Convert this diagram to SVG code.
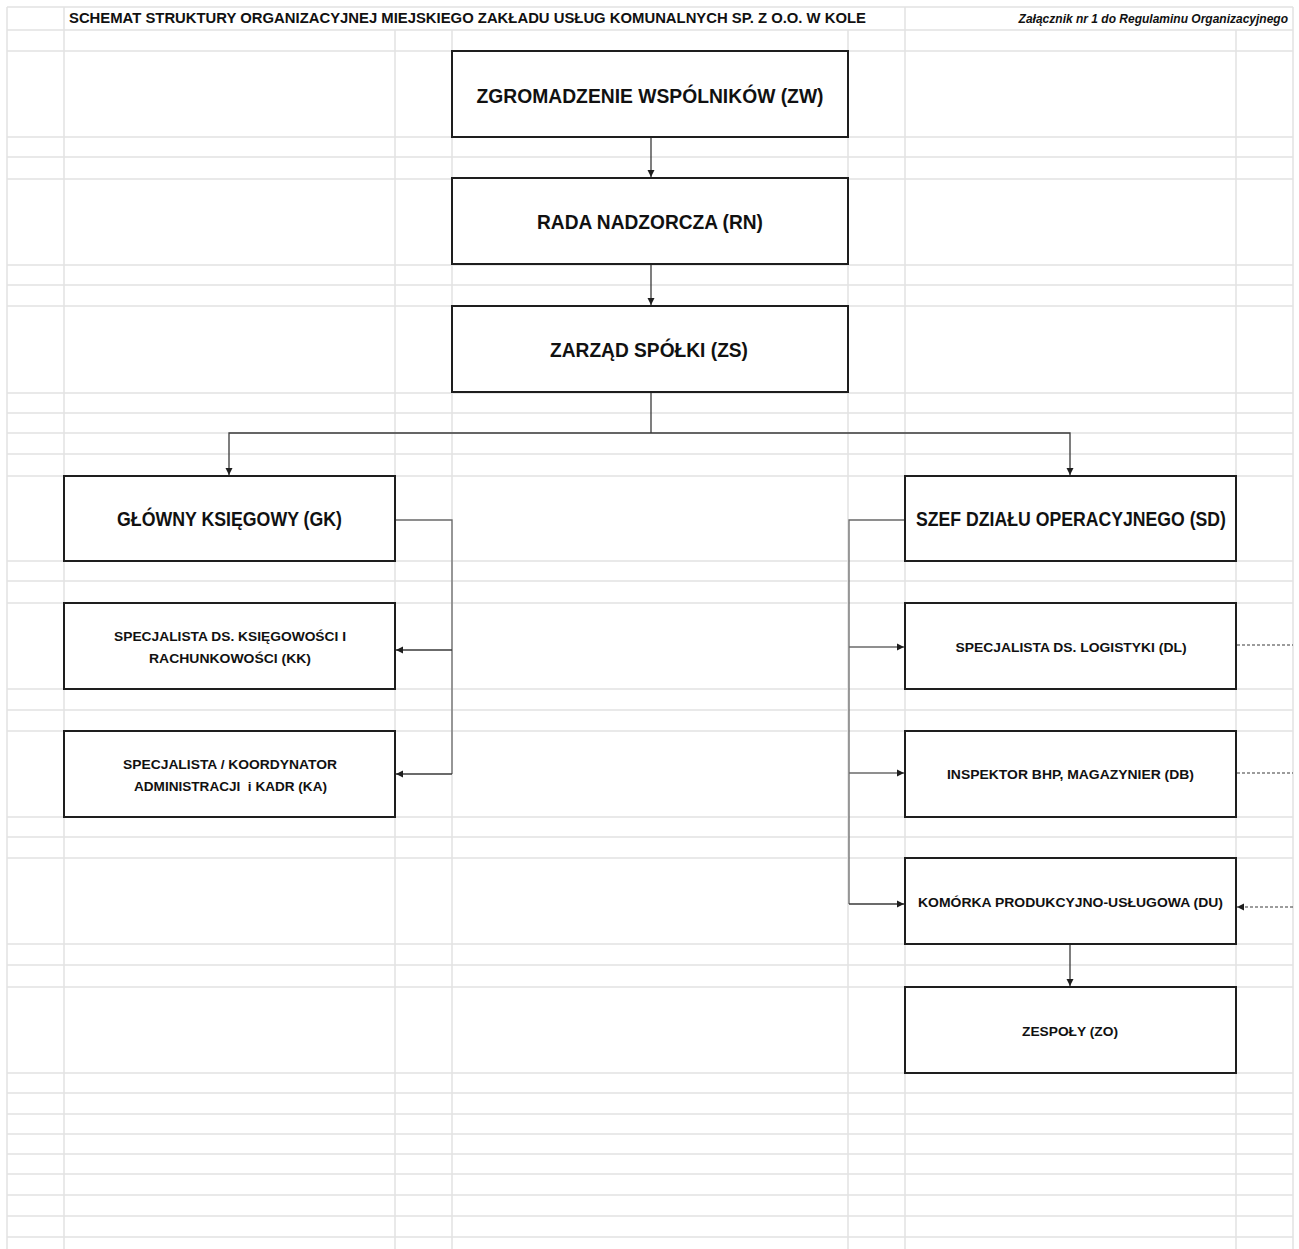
<svg xmlns="http://www.w3.org/2000/svg" width="1299" height="1249" viewBox="0 0 1299 1249">
<style>
.grid line{stroke:#e2e2e2;stroke-width:1.5}
.box{fill:#fff;stroke:#1e1e1e;stroke-width:2}
.big{font-family:"Liberation Sans",Arial,sans-serif;font-weight:bold;font-size:19.5px;fill:#111;text-anchor:middle}
.sm{font-family:"Liberation Sans",Arial,sans-serif;font-weight:bold;font-size:13.5px;fill:#111;text-anchor:middle;white-space:pre}
.c{fill:none;stroke:#3a3a3a;stroke-width:1.3}
.cg{fill:none;stroke:#6a6a6a;stroke-width:1.3}
.d{fill:none;stroke:#3a3a3a;stroke-width:1.2;stroke-dasharray:3 2}
</style>
<defs>
<marker id="ah" markerUnits="userSpaceOnUse" markerWidth="8" markerHeight="8" viewBox="0 0 8 8" refX="7" refY="4" orient="auto">
<path d="M0,0.5 L7,4 L0,7.5 Z" fill="#1e1e1e"/>
</marker>
</defs>
<rect width="1299" height="1249" fill="#fff"/>
<g class="grid">
<line x1="7" y1="7" x2="1293" y2="7"/>
<line x1="7" y1="30" x2="1293" y2="30"/>
<line x1="7" y1="51" x2="1293" y2="51"/>
<line x1="7" y1="137" x2="1293" y2="137"/>
<line x1="7" y1="157" x2="1293" y2="157"/>
<line x1="7" y1="179" x2="1293" y2="179"/>
<line x1="7" y1="265" x2="1293" y2="265"/>
<line x1="7" y1="285" x2="1293" y2="285"/>
<line x1="7" y1="306" x2="1293" y2="306"/>
<line x1="7" y1="393" x2="1293" y2="393"/>
<line x1="7" y1="413" x2="1293" y2="413"/>
<line x1="7" y1="433" x2="1293" y2="433"/>
<line x1="7" y1="454" x2="1293" y2="454"/>
<line x1="7" y1="476" x2="1293" y2="476"/>
<line x1="7" y1="561" x2="1293" y2="561"/>
<line x1="7" y1="581" x2="1293" y2="581"/>
<line x1="7" y1="603" x2="1293" y2="603"/>
<line x1="7" y1="689" x2="1293" y2="689"/>
<line x1="7" y1="710" x2="1293" y2="710"/>
<line x1="7" y1="731" x2="1293" y2="731"/>
<line x1="7" y1="817" x2="1293" y2="817"/>
<line x1="7" y1="837" x2="1293" y2="837"/>
<line x1="7" y1="858" x2="1293" y2="858"/>
<line x1="7" y1="944" x2="1293" y2="944"/>
<line x1="7" y1="965" x2="1293" y2="965"/>
<line x1="7" y1="987" x2="1293" y2="987"/>
<line x1="7" y1="1073" x2="1293" y2="1073"/>
<line x1="7" y1="1093" x2="1293" y2="1093"/>
<line x1="7" y1="1114" x2="1293" y2="1114"/>
<line x1="7" y1="1134" x2="1293" y2="1134"/>
<line x1="7" y1="1154" x2="1293" y2="1154"/>
<line x1="7" y1="1174" x2="1293" y2="1174"/>
<line x1="7" y1="1195" x2="1293" y2="1195"/>
<line x1="7" y1="1216" x2="1293" y2="1216"/>
<line x1="7" y1="1237" x2="1293" y2="1237"/>
<line x1="7" y1="7" x2="7" y2="1249"/>
<line x1="64" y1="7" x2="64" y2="1249"/>
<line x1="395" y1="30" x2="395" y2="1249"/>
<line x1="452" y1="30" x2="452" y2="1249"/>
<line x1="848" y1="30" x2="848" y2="1249"/>
<line x1="905" y1="7" x2="905" y2="1249"/>
<line x1="1236" y1="30" x2="1236" y2="1249"/>
<line x1="1293" y1="7" x2="1293" y2="1249"/>
</g>
<g id="title">
<text x="69" y="23" font-family="Liberation Sans, Arial, sans-serif" font-weight="bold" font-size="14.5" fill="#111" textLength="797" lengthAdjust="spacingAndGlyphs">SCHEMAT STRUKTURY ORGANIZACYJNEJ MIEJSKIEGO ZAKŁADU USŁUG KOMUNALNYCH SP. Z O.O. W KOLE</text>
<text x="1288" y="23" text-anchor="end" font-family="Liberation Sans, Arial, sans-serif" font-weight="bold" font-style="italic" font-size="12" fill="#111">Załącznik nr 1 do Regulaminu Organizacyjnego</text>
</g>
<g id="connectors">
<line class="c" x1="651" y1="137" x2="651" y2="177" marker-end="url(#ah)"/>
<line class="c" x1="651" y1="264" x2="651" y2="305" marker-end="url(#ah)"/>
<polyline class="c" points="651,392 651,433"/>
<polyline class="c" points="651,433 229,433 229,475" marker-end="url(#ah)"/>
<polyline class="c" points="651,433 1070,433 1070,475" marker-end="url(#ah)"/>
<polyline class="cg" points="395,520 452,520 452,774"/>
<line class="c" x1="452" y1="650" x2="396" y2="650" marker-end="url(#ah)"/>
<line class="c" x1="452" y1="774" x2="396" y2="774" marker-end="url(#ah)"/>
<polyline class="cg" points="905,520 849,520 849,904"/>
<line class="cg" x1="849" y1="647" x2="904" y2="647" marker-end="url(#ah)"/>
<line class="cg" x1="849" y1="773" x2="904" y2="773" marker-end="url(#ah)"/>
<line class="c" x1="849" y1="904" x2="904" y2="904" marker-end="url(#ah)"/>
<line class="c" x1="1070" y1="944" x2="1070" y2="986" marker-end="url(#ah)"/>
<line class="d" x1="1237" y1="645" x2="1293" y2="645"/>
<line class="d" x1="1237" y1="773" x2="1293" y2="773"/>
<line class="d" x1="1293" y1="907" x2="1237" y2="907" marker-end="url(#ah)"/>
</g>
<g id="ZW"><rect class="box" x="452" y="51" width="396" height="86"/><text class="big" x="650" y="103" textLength="347" lengthAdjust="spacingAndGlyphs">ZGROMADZENIE WSPÓLNIKÓW (ZW)</text></g>
<g id="RN"><rect class="box" x="452" y="178" width="396" height="86"/><text class="big" x="650" y="229" textLength="226" lengthAdjust="spacingAndGlyphs">RADA NADZORCZA (RN)</text></g>
<g id="ZS"><rect class="box" x="452" y="306" width="396" height="86"/><text class="big" x="649" y="357" textLength="198" lengthAdjust="spacingAndGlyphs">ZARZĄD SPÓŁKI (ZS)</text></g>
<g id="GK"><rect class="box" x="64" y="476" width="331" height="85"/><text class="big" x="229.5" y="526" textLength="225" lengthAdjust="spacingAndGlyphs">GŁÓWNY KSIĘGOWY (GK)</text></g>
<g id="SD"><rect class="box" x="905" y="476" width="331" height="85"/><text class="big" x="1071" y="526" textLength="310" lengthAdjust="spacingAndGlyphs">SZEF DZIAŁU OPERACYJNEGO (SD)</text></g>
<g id="KK"><rect class="box" x="64" y="603" width="331" height="86"/><text class="sm" x="230" y="641" textLength="232" lengthAdjust="spacingAndGlyphs">SPECJALISTA DS. KSIĘGOWOŚCI I</text><text class="sm" x="230" y="663" textLength="162" lengthAdjust="spacingAndGlyphs">RACHUNKOWOŚCI (KK)</text></g>
<g id="KA"><rect class="box" x="64" y="731" width="331" height="86"/><text class="sm" x="230" y="769" textLength="214" lengthAdjust="spacingAndGlyphs">SPECJALISTA / KOORDYNATOR</text><text class="sm" x="230.5" y="791" textLength="193" lengthAdjust="spacingAndGlyphs">ADMINISTRACJI  i KADR (KA)</text></g>
<g id="DL"><rect class="box" x="905" y="603" width="331" height="86"/><text class="sm" x="1071" y="652" textLength="231" lengthAdjust="spacingAndGlyphs">SPECJALISTA DS. LOGISTYKI (DL)</text></g>
<g id="DB"><rect class="box" x="905" y="731" width="331" height="86"/><text class="sm" x="1070.5" y="779" textLength="247" lengthAdjust="spacingAndGlyphs">INSPEKTOR BHP, MAGAZYNIER (DB)</text></g>
<g id="DU"><rect class="box" x="905" y="858" width="331" height="86"/><text class="sm" x="1070.5" y="907" textLength="305" lengthAdjust="spacingAndGlyphs">KOMÓRKA PRODUKCYJNO-USŁUGOWA (DU)</text></g>
<g id="ZO"><rect class="box" x="905" y="987" width="331" height="86"/><text class="sm" x="1070" y="1036" textLength="96" lengthAdjust="spacingAndGlyphs">ZESPOŁY (ZO)</text></g>
</svg>
